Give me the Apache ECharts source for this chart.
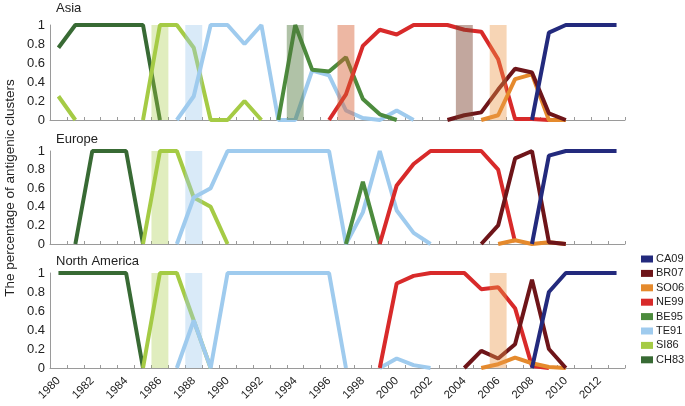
<!DOCTYPE html>
<html>
<head>
<meta charset="utf-8">
<script src="https://cdn.jsdelivr.net/npm/echarts@6/dist/echarts.min.js"></script>
<style>
html,body{margin:0;padding:0;background:#fff;}
#chart{width:685px;height:406px;}
</style>
</head>
<body>
<div id="chart"></div>
<script>
// ---- data ----
const years = [];
for (let y = 1980; y <= 2013; y++) years.push(String(y));

const clusterNames = ['CA09', 'BR07', 'SO06', 'NE99', 'BE95', 'TE91', 'SI86', 'CH83'];
const regionNames = ['Asia', 'Europe', 'North America'];

// helper: build 34-length array from {year: value}
function byYear(obj) {
  return years.map(y => (obj[y] === undefined ? null : obj[y]));
}

// Asia
const asiaCH83 = byYear({1980:0.76,1981:1,1982:1,1983:1,1984:1,1985:1,1986:0});
const asiaSI86 = byYear({1980:0.25,1981:0,1985:0,1986:1,1987:1,1988:0.76,1989:0,1990:0,1991:0.2,1992:0});
const asiaTE91 = byYear({1987:0,1988:0.25,1989:1,1990:1,1991:0.8,1992:1,1993:0,1994:0,1995:0.52,1996:0.47,1997:0.1,1998:0.02,1999:0,2000:0.1,2001:0});
const asiaBE95 = byYear({1993:0,1994:1,1995:0.53,1996:0.51,1997:0.66,1998:0.22,1999:0.06,2000:0});
const asiaNE99 = byYear({1996:0,1997:0.27,1998:0.78,1999:0.95,2000:0.9,2001:1,2002:1,2003:1,2004:0.95,2005:0.93,2006:0.64,2007:0.01,2008:0.01,2009:0});
const asiaSO06 = byYear({2005:0,2006:0.05,2007:0.43,2008:0.48,2009:0,2010:0});
const asiaBR07 = byYear({2003:0,2004:0.05,2005:0.08,2006:0.32,2007:0.54,2008:0.5,2009:0.07,2010:0});
const asiaCA09 = byYear({2008:0,2009:0.92,2010:1,2011:1,2012:1,2013:1});

// Europe
const eurCH83 = byYear({1981:0,1982:1,1983:1,1984:1,1985:0});
const eurSI86 = byYear({1985:0,1986:1,1987:1,1988:0.5,1989:0.4,1990:0});
const eurTE91 = byYear({1987:0,1988:0.5,1989:0.6,1990:1,1991:1,1992:1,1993:1,1994:1,1995:1,1996:1,1997:0,1998:0.34,1999:1,2000:0.36,2001:0.12,2002:0});
const eurBE95 = byYear({1997:0,1998:0.67,1999:0});
const eurNE99 = byYear({1999:0,2000:0.63,2001:0.86,2002:1,2003:1,2004:1,2005:1,2006:0.8,2007:0.02});
const eurSO06 = byYear({2006:0,2007:0.04,2008:0,2009:0.02,2010:0});
const eurBR07 = byYear({2005:0,2006:0.2,2007:0.92,2008:1,2009:0.02,2010:0});
const eurCA09 = byYear({2008:0,2009:0.95,2010:1,2011:1,2012:1,2013:1});

// North America
const naCH83 = byYear({1980:1,1981:1,1982:1,1983:1,1984:1,1985:0});
const naSI86 = byYear({1985:0,1986:1,1987:1,1988:0.5,1989:0});
const naTE91 = byYear({1987:0,1988:0.5,1989:0,1990:1,1991:1,1992:1,1993:1,1994:1,1995:1,1996:1,1997:0,1999:0,2000:0.1,2001:0.03,2002:0});
const naBE95 = byYear({});
const naNE99 = byYear({1999:0,2000:0.89,2001:0.97,2002:1,2003:1,2004:1,2005:0.83,2006:0.85,2007:0.63,2008:0.02,2009:0});
const naSO06 = byYear({2005:0,2006:0.04,2007:0.11,2008:0.05,2009:0.01,2010:0});
const naBR07 = byYear({2004:0,2005:0.18,2006:0.1,2007:0.25,2008:0.93,2009:0.2,2010:0});
const naCA09 = byYear({2008:0,2009:0.8,2010:1,2011:1,2012:1,2013:1});

// emergence bands (year of cluster emergence per region)
const asiaBands = {1986:'SI86',1988:'TE91',1994:'BE95',1997:'NE99',2004:'BR07',2006:'SO06'};
const eurBands  = {1986:'SI86',1988:'TE91'};
const naBands   = {1986:'SI86',1988:'TE91',2006:'SO06'};

// ---- styles ----
const lineColors = {
  CA09:'#232a7d', BR07:'#6e1519', SO06:'#e58a2d', NE99:'#d82a2a',
  BE95:'#4c8b3d', TE91:'#9fcbee', SI86:'#a5cb45', CH83:'#386a34'
};
const bandColors = {
  SI86:'rgba(165,203,69,0.35)', TE91:'rgba(159,203,238,0.4)',
  BE95:'rgba(80,120,60,0.45)', NE99:'rgba(215,95,50,0.45)',
  BR07:'rgba(120,60,40,0.45)', SO06:'rgba(235,150,70,0.4)'
};

const panels = [
  {CH83:asiaCH83,SI86:asiaSI86,TE91:asiaTE91,BE95:asiaBE95,NE99:asiaNE99,SO06:asiaSO06,BR07:asiaBR07,CA09:asiaCA09,bands:asiaBands},
  {CH83:eurCH83,SI86:eurSI86,TE91:eurTE91,BE95:eurBE95,NE99:eurNE99,SO06:eurSO06,BR07:eurBR07,CA09:eurCA09,bands:eurBands},
  {CH83:naCH83,SI86:naSI86,TE91:naTE91,BE95:naBE95,NE99:naNE99,SO06:naSO06,BR07:naBR07,CA09:naCA09,bands:naBands}
];

const FONT = 'Liberation Sans, Arial, Helvetica, sans-serif';
const gridTops = [25, 151, 273];
const gridHeights = [95, 93, 95];
const drawOrder = ['CH83','SI86','TE91','BE95','NE99','SO06','BR07','CA09'];

const grids = [], xAxes = [], yAxes = [], series = [], titles = [];
panels.forEach((p, i) => {
  grids.push({left: 50, right: 60, top: gridTops[i], height: gridHeights[i]});
  xAxes.push({
    type: 'category', gridIndex: i, data: years, boundaryGap: true,
    axisLine: {show: true, lineStyle: {color: '#9a9a9a', width: 1}},
    axisTick: {show: true, inside: true, length: 3, interval: 0, lineStyle: {color: '#9a9a9a'}},
    axisLabel: {show: i === 2, interval: 1, rotate: 45, fontSize: 11.5, margin: 11, color: '#222', fontFamily: FONT},
    splitLine: {show: false}
  });
  yAxes.push({
    type: 'value', gridIndex: i, min: 0, max: 1, interval: 0.2,
    axisLine: {show: true, lineStyle: {color: '#9a9a9a', width: 1}},
    axisTick: {show: false},
    axisLabel: {fontSize: 13, margin: 5, color: '#222', fontFamily: FONT},
    splitLine: {show: false}
  });
  titles.push({
    text: regionNames[i], left: 56, top: [2, 133, 255][i], padding: 0,
    textStyle: {fontSize: 13, fontWeight: 'normal', color: '#222', fontFamily: FONT}
  });
  drawOrder.forEach(name => {
    series.push({
      name: name, type: 'line', xAxisIndex: i, yAxisIndex: i,
      data: p[name], symbol: 'none', connectNulls: false,
      lineStyle: {width: 4, color: lineColors[name]},
      itemStyle: {color: lineColors[name]},
      z: 2, silent: true
    });
  });
  const bandData = years.map(y => p.bands[y] ? {value: 1, itemStyle: {color: bandColors[p.bands[y]]}} : null);
  series.push({
    name: 'band' + i, type: 'bar', xAxisIndex: i, yAxisIndex: i,
    data: bandData, barCategoryGap: '0%', z: 5, silent: true
  });
});

const chart = echarts.init(document.getElementById('chart'), null, {renderer: 'canvas'});
chart.setOption({
  animation: false,
  backgroundColor: '#fff',
  textStyle: {fontFamily: FONT},
  title: titles,
  grid: grids,
  xAxis: xAxes,
  yAxis: yAxes,
  legend: {
    data: clusterNames, orient: 'vertical', left: 636, top: 248,
    icon: 'rect', itemWidth: 12, itemHeight: 7, itemGap: 2.4,
    textStyle: {fontSize: 11, lineHeight: 12, color: '#222', fontFamily: FONT, padding: [0,0,0,-2]},
    selectedMode: false
  },
  graphic: [{
    type: 'text', rotation: Math.PI / 2,
    x: 10, y: 188,
    style: {text: 'The percentage of antigenic clusters', fill: '#222', font: '13.5px ' + FONT, textAlign: 'center', textVerticalAlign: 'middle'}
  }],
  series: series
});
</script>
</body>
</html>
